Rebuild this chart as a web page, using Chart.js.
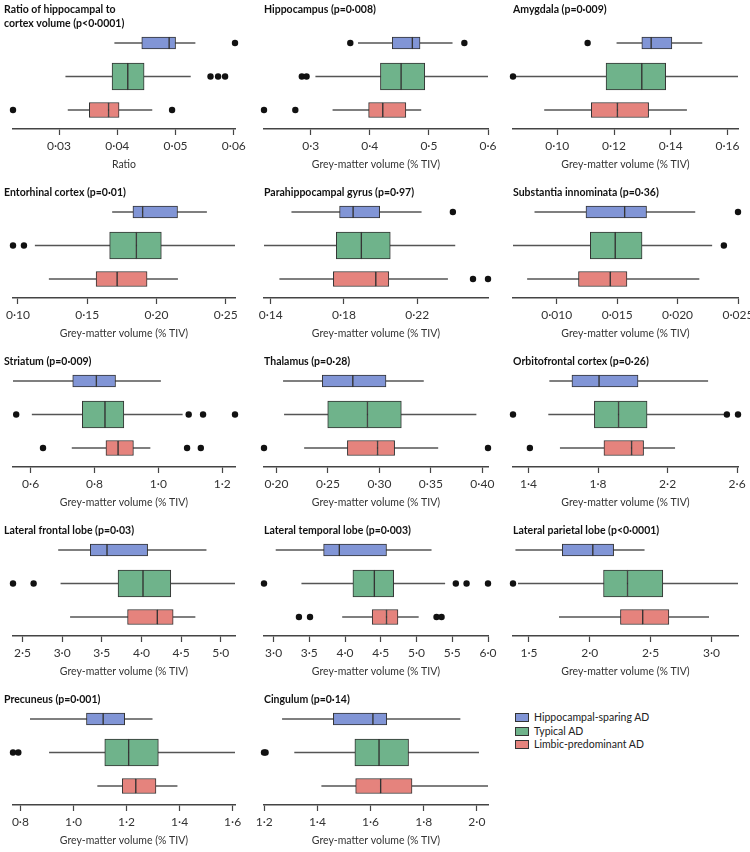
<!DOCTYPE html>
<html><head><meta charset="utf-8">
<script src="https://cdn.jsdelivr.net/npm/chart.js@4/dist/chart.umd.min.js"></script>
<style>
body{margin:0;background:#fff;width:750px;height:852px;position:relative;overflow:hidden;font-family:Lato,'Open Sans',sans-serif}
canvas{position:absolute}
#legend{position:absolute;left:515px;top:711px;font-family:Lato,sans-serif;font-size:10.5px;color:#222;line-height:13.5px}
.item{display:flex;align-items:center;height:13.5px;white-space:nowrap}
.sw{width:12px;height:7px;border:1px solid #333;margin-right:5px;box-sizing:content-box}
</style></head><body>
<div id="legend"></div>
<script>
// ---------- DATA ----------
const panelTitles = [
  ['Ratio of hippocampal to', 'cortex volume (p<0·0001)'],
  'Hippocampus (p=0·008)',
  'Amygdala (p=0·009)',
  'Entorhinal cortex (p=0·01)',
  'Parahippocampal gyrus (p=0·97)',
  'Substantia innominata (p=0·36)',
  'Striatum (p=0·009)',
  'Thalamus (p=0·28)',
  'Orbitofrontal cortex (p=0·26)',
  'Lateral frontal lobe (p=0·03)',
  'Lateral temporal lobe (p=0·003)',
  'Lateral parietal lobe (p<0·0001)',
  'Precuneus (p=0·001)',
  'Cingulum (p=0·14)'
];
const axisLabels = ['Ratio'].concat(Array(13).fill('Grey-matter volume (% TIV)'));
const tickValues = [
  [0.03,0.04,0.05,0.06],
  [0.3,0.4,0.5,0.6],
  [0.10,0.12,0.14,0.16],
  [0.10,0.15,0.20,0.25],
  [0.14,0.18,0.22],
  [0.010,0.015,0.020,0.025],
  [0.6,0.8,1.0,1.2],
  [0.20,0.25,0.30,0.35,0.40],
  [1.4,1.8,2.2,2.6],
  [2.5,3.0,3.5,4.0,4.5,5.0],
  [3.0,3.5,4.0,4.5,5.0,5.5,6.0],
  [1.5,2.0,2.5,3.0],
  [0.8,1.0,1.2,1.4,1.6],
  [1.2,1.4,1.6,1.8,2.0]
];
const tickDecimals = [2,1,2,2,2,3,1,2,1,1,1,1,1,1];
const groupNames = ['Hippocampal-sparing AD','Typical AD','Limbic-predominant AD'];

// five-number summaries: [lower whisker, Q1, median, Q3, upper whisker]
const sparingStats = [
  [0.0395,0.0442,0.0489,0.0500,0.0534],
  [0.380,0.438,0.472,0.485,0.540],
  [0.1209,0.1298,0.1331,0.1404,0.1511],
  [0.168,0.183,0.190,0.2152,0.2364],
  [0.1513,0.1776,0.1850,0.1995,0.2224],
  [0.00816,0.01242,0.01562,0.01743,0.02146],
  [0.545,0.732,0.806,0.866,1.008],
  [0.2064,0.2445,0.2742,0.3064,0.3431],
  [1.52,1.65,1.806,2.03,2.433],
  [2.95,3.355,3.566,4.078,4.82],
  [3.03,3.70,3.92,4.58,5.21],
  [1.389,1.774,2.025,2.196,2.45],
  [0.836,1.049,1.112,1.193,1.298],
  [1.267,1.46,1.609,1.661,1.938]
];
const typicalStats = [
  [0.0311,0.0391,0.0418,0.0446,0.0526],
  [0.308,0.418,0.453,0.493,0.600],
  [0.0846,0.1172,0.1298,0.1382,0.1637],
  [0.1122,0.1662,0.1855,0.2035,0.2567],
  [0.1363,0.1758,0.1895,0.2053,0.2408],
  [0.00638,0.01278,0.01484,0.01706,0.02286],
  [0.604,0.762,0.833,0.892,1.076],
  [0.2074,0.2498,0.2884,0.3213,0.3942],
  [1.514,1.779,1.918,2.082,2.536],
  [2.98,3.705,4.02,4.37,5.18],
  [3.39,4.11,4.41,4.68,5.40],
  [1.41,2.113,2.31,2.60,3.218],
  [0.908,1.118,1.208,1.32,1.609],
  [1.313,1.541,1.632,1.743,2.008]
];
const limbicStats = [
  [0.0315,0.0352,0.0385,0.0403,0.0460],
  [0.337,0.398,0.422,0.461,0.487],
  [0.0954,0.1120,0.1212,0.1322,0.1457],
  [0.1223,0.1564,0.1716,0.1932,0.2155],
  [0.1447,0.1742,0.1974,0.2045,0.2368],
  [0.00755,0.0118,0.01443,0.01581,0.0218],
  [0.729,0.836,0.874,0.922,0.975],
  [0.2269,0.2689,0.2982,0.3148,0.3571],
  [1.581,1.834,1.993,2.062,2.243],
  [3.10,3.825,4.20,4.40,4.68],
  [3.96,4.38,4.58,4.74,5.03],
  [1.747,2.252,2.435,2.65,2.98],
  [1.09,1.184,1.235,1.311,1.392],
  [1.415,1.544,1.638,1.756,2.042]
];
const sparingOutliers = [[0.0602],[0.367,0.560],[0.1107],[],[0.2395],[0.0250],[],[],[],[],[],[],[],[]];
const typicalOutliers = [[0.0560,0.0573,0.0585],[0.285,0.293],[0.0844],[0.0964,0.1043],[],[0.02383],
  [0.555,1.095,1.140,1.240],[],[1.311,2.541,2.605],[2.38,2.64],[2.866,5.55,5.70,6.0],[1.369],[0.772,0.792],[1.199,1.205]];
const limbicOutliers = [[0.0221,0.0494],[0.221,0.274],[],[],[0.2505,0.2587],[],
  [0.639,1.090,1.133],[0.1879,0.4055],[1.408],[],[3.355,3.51,5.28,5.35],[],[],[]];

// ---------- STYLE / LAYOUT ----------
const FONT = "Lato,'Open Sans',sans-serif";
const fills = ['#8195d6','#6fb38b','#e5837d'];
const groupY = [2,1,0];
const thickness = [12,27,15];
const colLeft = [0,250,500], colPadL = [4,14,13], colYW = [9,0,0], colAxisRight = [235,488,738];
const ROW = 169, CH = 172, CW = 250;

Chart.defaults.font.family = FONT;

panelTitles.forEach((title, i) => {
  const r = Math.floor(i / 3), c = i % 3;
  const cv = document.createElement('canvas');
  cv.width = CW; cv.height = CH;
  cv.style.left = colLeft[c] + 'px';
  cv.style.top = (r * ROW) + 'px';
  cv.style.width = CW + 'px'; cv.style.height = CH + 'px';
  document.body.appendChild(cv);

  const stats = [sparingStats[i], typicalStats[i], limbicStats[i]];
  const outs = [sparingOutliers[i], typicalOutliers[i], limbicOutliers[i]];
  const all = [].concat(...stats, ...outs);
  const xmin = Math.min(...all), xmax = Math.max(...all);

  const datasets = [];
  stats.forEach((s, g) => {
    datasets.push({
      type: 'line', label: groupNames[g] + ' whisker',
      data: [{x: s[0], y: groupY[g]}, {x: s[4], y: groupY[g]}],
      borderColor: '#555', borderWidth: 1.3, pointRadius: 0, order: 3, clip: false
    });
    datasets.push({
      type: 'bar', label: groupNames[g], grouped: false,
      barThickness: thickness[g],
      data: [{x: [s[1], s[2]], y: groupY[g]}, {x: [s[2], s[3]], y: groupY[g]}],
      backgroundColor: fills[g], borderColor: '#333', borderWidth: 1,
      borderSkipped: false, order: 2
    });
    datasets.push({
      type: 'scatter', label: groupNames[g] + ' outliers',
      data: outs[g].map(v => ({x: v, y: groupY[g]})),
      pointRadius: 3.2, backgroundColor: '#111', borderWidth: 0, order: 1, clip: false
    });
  });

  const single = !Array.isArray(title);
  new Chart(cv, {
    type: 'bar',
    data: {datasets},
    options: {
      indexAxis: 'y',
      responsive: false, animation: false, devicePixelRatio: 1,
      layout: {padding: {left: colPadL[c], right: colLeft[c] + CW - colAxisRight[c], top: 0, bottom: 0}},
      plugins: {
        legend: {display: false},
        tooltip: {enabled: false},
        title: {
          display: true, text: title, align: 'start', color: '#111',
          font: {size: 10.5, weight: 'bold', lineHeight: 14 / 10.5},
          padding: {top: r === 0 ? 3 : 17, bottom: (r === 0 && single) ? 14 : 0}
        }
      },
      scales: {
        x: {
          type: 'linear', min: xmin, max: xmax, offset: false, beginAtZero: false,
          afterBuildTicks: s => { s.ticks = tickValues[i].map(v => ({value: v})); },
          afterFit: s => { s.height = 43; s.paddingLeft = 0; s.paddingRight = 0; },
          ticks: {
            autoSkip: false, maxRotation: 0, minRotation: 0, padding: 4, color: '#333',
            font: {size: 12},
            callback: v => Number(v).toFixed(tickDecimals[i]).replace('.', '·')
          },
          grid: {display: true, offset: false, drawOnChartArea: false, drawTicks: true, tickLength: 6, tickColor: '#444', tickWidth: 1.2},
          border: {display: true, color: '#444', width: 1.5},
          title: {display: true, text: axisLabels[i], color: '#333', font: {size: 10.5}, padding: {top: 0, bottom: 1}}
        },
        y: {
          type: 'linear', min: -0.567, max: 2.358, display: true, offset: false,
          afterFit: s => { s.width = colYW[c]; s.paddingTop = 0; s.paddingBottom = 0; },
          ticks: {display: false}, grid: {display: false, offset: false}, border: {display: false}
        }
      }
    }
  });
});

// legend (HTML)
const legend = document.getElementById('legend');
groupNames.forEach((n, g) => {
  const it = document.createElement('div'); it.className = 'item';
  const sw = document.createElement('span'); sw.className = 'sw'; sw.style.background = fills[g];
  const tx = document.createElement('span'); tx.textContent = n;
  it.appendChild(sw); it.appendChild(tx); legend.appendChild(it);
});
</script>
</body></html>
